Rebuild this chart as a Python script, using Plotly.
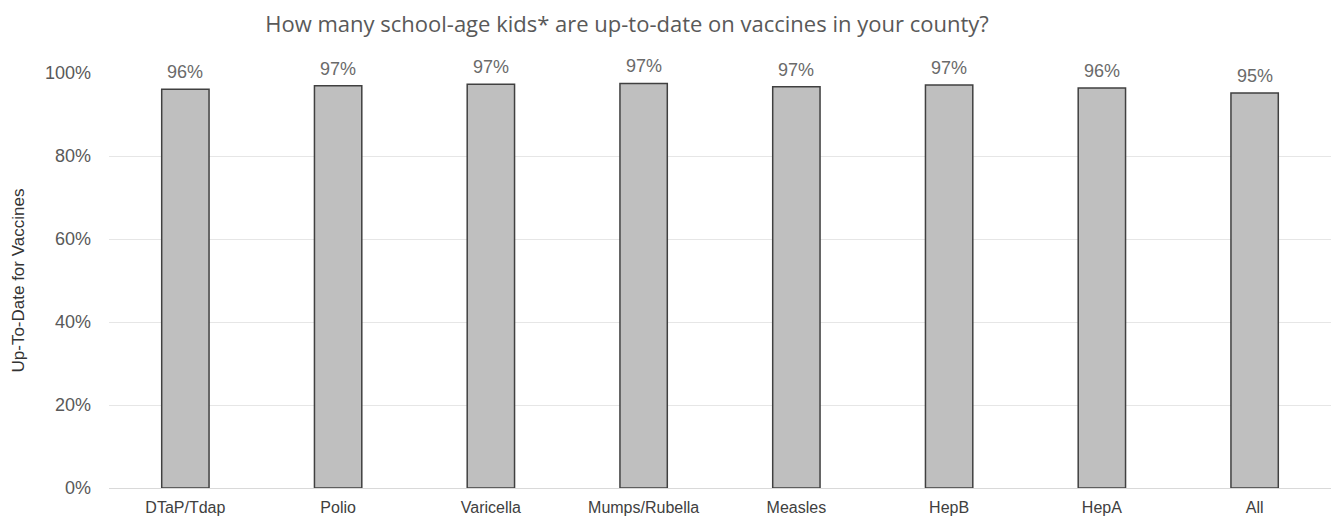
import plotly.graph_objects as go

categories = ["DTaP/Tdap", "Polio", "Varicella", "Mumps/Rubella", "Measles", "HepB", "HepA", "All"]
values = [96.1, 96.9, 97.3, 97.5, 96.7, 97.1, 96.4, 95.2]
labels = ["96%", "97%", "97%", "97%", "97%", "97%", "96%", "95%"]
y_ticks = [0, 20, 40, 60, 80, 100]
y_tick_labels = ["0%", "20%", "40%", "60%", "80%", "100%"]

FONT = "Liberation Sans, Arial"

fig = go.Figure()
fig.add_trace(go.Bar(
    x=categories, y=values,
    marker=dict(color="#bfbfbf", line=dict(color="#404040", width=1.5)),
    width=0.31, hoverinfo="skip",
))

annotations = [
    dict(x=c, y=v, text=t, xref="x", yref="y", showarrow=False,
         yanchor="bottom", yshift=5,
         font=dict(family=FONT, size=18, color="#6a6a6a"))
    for c, v, t in zip(categories, values, labels)
]
annotations.append(dict(text="Up-To-Date for Vaccines", xref="paper", yref="paper",
                        x=-91 / 1222, y=0.5, textangle=-90, showarrow=False,
                        xanchor="center", yanchor="middle",
                        font=dict(family=FONT, size=17, color="#333333")))

fig.update_layout(
    width=1341, height=525,
    margin=dict(l=101, r=18, t=65, b=45),
    paper_bgcolor="white", plot_bgcolor="white",
    showlegend=False,
    title=dict(text="How many school-age kids* are up-to-date on vaccines in your county?",
               x=619 / 1341, xanchor="center", y=1 - 16 / 525, yanchor="middle",
               font=dict(family="Open Sans, Noto Sans", size=22, color="#595959")),
    xaxis=dict(showgrid=False, showline=True, linecolor="#d9d9d9", linewidth=1,
               ticks="", automargin=False, ticklabelstandoff=5,
               tickfont=dict(family=FONT, size=16, color="#404040")),
    yaxis=dict(range=[0, 100], tickvals=y_ticks, ticktext=y_tick_labels,
               showgrid=True, gridcolor="#e6e6e6", gridwidth=1, zeroline=False,
               ticks="", ticklabelstandoff=17, automargin=False,
               tickfont=dict(family=FONT, size=18, color="#595959")),
    annotations=annotations,
    shapes=[dict(type="line", xref="paper", yref="paper", x0=1.0033, x1=1.0033, y0=-0.1, y1=1.2,
                 line=dict(color="#e8e8e8", width=1))],
)

fig.write_html("out.html")
